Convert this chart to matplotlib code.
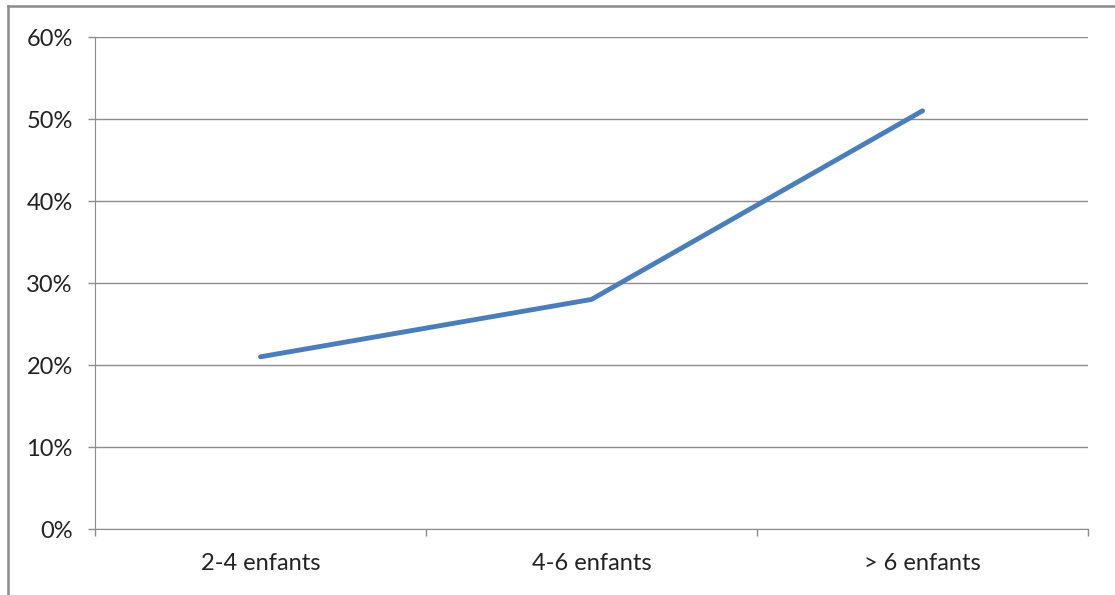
import matplotlib
matplotlib.use("Agg")
import matplotlib.pyplot as plt
from matplotlib.lines import Line2D
from matplotlib.ticker import FuncFormatter

plt.rcParams['font.family'] = ['Lato', 'DejaVu Sans']

categories = ['2-4 enfants', '4-6 enfants', '> 6 enfants']
values = [0.21, 0.28, 0.51]
y_ticks = [0, 0.1, 0.2, 0.3, 0.4, 0.5, 0.6]

grid_col = '#8c8c8c'
line_col = '#4a7ebb'

fig = plt.figure(figsize=(11.15, 5.95), dpi=100)
ax = fig.add_axes([0.0852, 0.1109, 0.8906, 0.8269])

x = [i + 0.5 for i in range(len(categories))]
ax.plot(x, values, color=line_col, lw=3.5, solid_capstyle='round', zorder=3)

ax.set_xlim(0, len(categories))
ax.set_ylim(0, 0.6)
ax.set_yticks(y_ticks)
ax.yaxis.set_major_formatter(FuncFormatter(lambda v, p: f'{v * 100:.0f}%'))
ax.grid(axis='y', color=grid_col, lw=1)
ax.set_axisbelow(True)

# category labels centred, tick marks on the boundaries
ax.set_xticks(range(len(categories) + 1))
ax.set_xticklabels([])
ax.set_xticks(x, minor=True)
ax.set_xticklabels(categories, minor=True)
ax.tick_params(axis='x', which='major', length=5, color=grid_col, width=1)
ax.tick_params(axis='x', which='minor', length=0, pad=17, labelsize=17, labelcolor='#222222')
ax.tick_params(axis='y', length=5, color=grid_col, width=1, pad=11, labelsize=17, labelcolor='#222222')

for side in ['top', 'right']:
    ax.spines[side].set_visible(False)
ax.spines['left'].set_color(grid_col)
ax.spines['bottom'].set_color(grid_col)

# chart frame along the top and left edges
fig.add_artist(Line2D([8 / 1115, 1.0], [1 - 6 / 595, 1 - 6 / 595], color='#8a8a8a', lw=1.8))
fig.add_artist(Line2D([8 / 1115, 8 / 1115], [0, 1 - 6 / 595], color='#8a8a8a', lw=1.8))

fig.savefig('out.png', dpi=100)
